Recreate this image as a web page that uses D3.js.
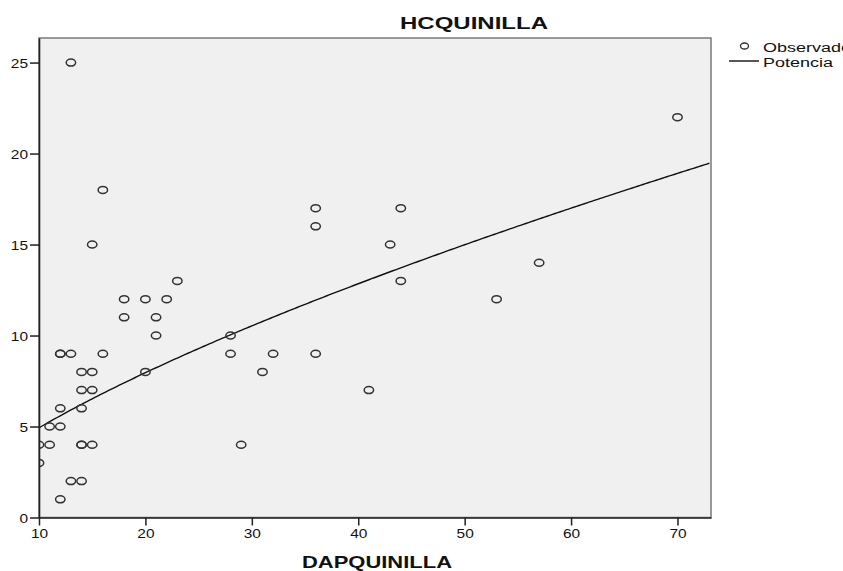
<!DOCTYPE html>
<html>
<head>
<meta charset="utf-8">
<script src="https://cdn.jsdelivr.net/npm/d3@7"></script>
<style>
  body { margin: 0; background: #fff; }
  text { font-family: "Liberation Sans", Arial, sans-serif; fill: #111; }
</style>
</head>
<body>
<div id="graph"></div>
<script>
// observed values (DAP on x, HC on y)
const dap = [10,10,11,11,12,12,12,12,12,13,13,13,14,14,14,14,14,14,15,15,15,15,16,16,18,18,20,20,21,21,22,23,28,28,29,31,32,36,36,36,41,43,44,44,53,57,70];
const hc  = [4, 3, 5, 4, 9, 9, 6, 5, 1, 25,9, 2, 8, 7, 6, 4, 4, 2, 8, 7, 4, 15,18,9, 12,11,12,8, 11,10,12,13,10,9, 4, 8, 9, 17,16,9, 7, 15,17,13,12,14,22];

// power model  hc = a * dap^b
const powA = 1.004;
const powB = 0.691;

const xTicks = [10, 20, 30, 40, 50, 60, 70];
const yTicks = [0, 5, 10, 15, 20, 25];
const legendLabels = ["Observado", "Potencia"];

const WIDTH = 843, HEIGHT = 571;
let plot = {left: 39, top: 38, right: 711, bottom: 517.5};

let svg = d3.select("div#graph")
    .append("svg")
    .attr("width", WIDTH)
    .attr("height", HEIGHT);

svg.append("rect")
    .attr("width", WIDTH)
    .attr("height", HEIGHT)
    .attr("fill", "#fff");

let x = d3.scaleLinear()
    .domain([10, 73.15])
    .range([plot.left, plot.right]);

let y = d3.scaleLinear()
    .domain([0, 26.35])
    .range([plot.bottom, plot.top]);

// plot background + frame
svg.append("rect")
    .attr("x", plot.left)
    .attr("y", plot.top)
    .attr("width", plot.right - plot.left)
    .attr("height", plot.bottom - plot.top)
    .attr("fill", "#f0f0f0")
    .attr("stroke", "#7a7a7a")
    .attr("stroke-width", 1.5);

svg.append("clipPath")
    .attr("id", "clip")
    .append("rect")
    .attr("x", plot.left)
    .attr("y", plot.top)
    .attr("width", plot.right - plot.left)
    .attr("height", plot.bottom - plot.top);

let inner = svg.append("g").attr("clip-path", "url(#clip)");

// fitted power curve
let curveX = d3.range(10, 73.16, 0.25);
let line = d3.line()
    .x(d => x(d))
    .y(d => y(powA * Math.pow(d, powB)));

inner.append("path")
    .datum(curveX)
    .attr("d", line)
    .attr("fill", "none")
    .attr("stroke", "#111")
    .attr("stroke-width", 1.4);

// observed points, drawn as slightly wide rings
inner.selectAll("ellipse.obs")
    .data(d3.range(dap.length))
    .enter()
    .append("ellipse")
    .attr("class", "obs")
    .attr("cx", i => x(dap[i]))
    .attr("cy", i => y(hc[i]))
    .attr("rx", 4.7)
    .attr("ry", 3.5)
    .attr("fill", "none")
    .attr("stroke", "#333")
    .attr("stroke-width", 1.5);

// axes
let xAxis = svg.append("g")
    .attr("transform", `translate(0, ${plot.bottom})`)
    .call(d3.axisBottom(x).tickValues(xTicks).tickSize(8).tickSizeOuter(0).tickPadding(3));

let yAxis = svg.append("g")
    .attr("transform", `translate(${plot.left}, 0)`)
    .call(d3.axisLeft(y).tickValues(yTicks).tickSize(9).tickSizeOuter(0).tickPadding(2));

[xAxis, yAxis].forEach(ax => {
    ax.select(".domain").attr("stroke", "#222").attr("stroke-width", 1.6);
    ax.selectAll(".tick line").attr("stroke", "#222").attr("stroke-width", 1.5);
    ax.selectAll(".tick text")
        .attr("fill", "#111")
        .style("font-size", "13px")
        .style("font-family", "'Liberation Sans', Arial, sans-serif")
        .attr("textLength", d => String(d).length * 8.6)
        .attr("lengthAdjust", "spacingAndGlyphs");
});
yAxis.selectAll(".tick text").attr("dy", "0.36em");

// title
svg.append("text")
    .attr("x", 400)
    .attr("y", 29)
    .style("font-size", "17px")
    .style("font-weight", "bold")
    .attr("textLength", 148)
    .attr("lengthAdjust", "spacingAndGlyphs")
    .text("HCQUINILLA");

// x-axis label
svg.append("text")
    .attr("x", 302)
    .attr("y", 568)
    .style("font-size", "17px")
    .style("font-weight", "bold")
    .attr("textLength", 150)
    .attr("lengthAdjust", "spacingAndGlyphs")
    .text("DAPQUINILLA");

// legend
svg.append("ellipse")
    .attr("cx", 744.5)
    .attr("cy", 46)
    .attr("rx", 4)
    .attr("ry", 3)
    .attr("fill", "none")
    .attr("stroke", "#333")
    .attr("stroke-width", 1.3);

svg.append("line")
    .attr("x1", 729)
    .attr("x2", 759)
    .attr("y1", 61)
    .attr("y2", 61)
    .attr("stroke", "#111")
    .attr("stroke-width", 1.4);

svg.selectAll("text.legend")
    .data(legendLabels)
    .enter()
    .append("text")
    .attr("class", "legend")
    .attr("x", 763)
    .attr("y", (d, i) => 52 + i * 14.5)
    .style("font-size", "12.5px")
    .attr("textLength", d => d === "Observado" ? 88 : 70)
    .attr("lengthAdjust", "spacingAndGlyphs")
    .text(d => d);
</script>
</body>
</html>
